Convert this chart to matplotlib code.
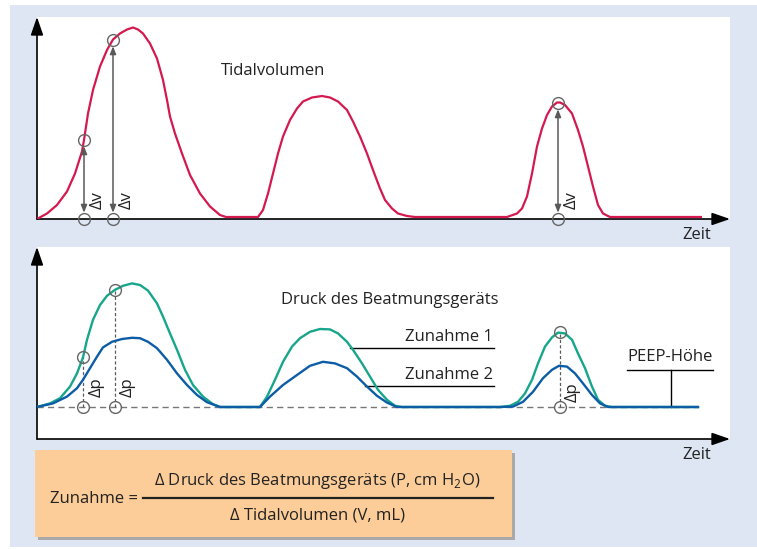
import matplotlib
matplotlib.use("Agg")
import matplotlib.pyplot as plt
from matplotlib.patches import Rectangle

plt.rcParams['font.family'] = ['Open Sans', 'DejaVu Sans']
plt.rcParams['mathtext.fontset'] = 'custom'
plt.rcParams['mathtext.rm'] = 'Open Sans'

########
# data #
########

# tidal volume (time in s, volume in mL)
vol_t = [0, 0.10, 0.20, 0.30, 0.38, 0.45, 0.47, 0.51, 0.56, 0.63, 0.70, 0.76, 0.83, 0.90, 0.96,
         1.01, 1.06, 1.13, 1.20, 1.26, 1.30, 1.33, 1.38, 1.45, 1.53, 1.63, 1.73, 1.83, 1.89,
         2.21, 2.26, 2.31, 2.36, 2.41, 2.46, 2.53, 2.60, 2.66, 2.75, 2.85, 2.93, 3.01, 3.10,
         3.16, 3.23, 3.30, 3.36, 3.43, 3.48, 3.55, 3.61, 3.70, 3.78,
         4.70, 4.80, 4.85, 4.90, 4.95, 5.00, 5.05, 5.10, 5.15, 5.20, 5.23, 5.28, 5.35, 5.41,
         5.46, 5.51, 5.56, 5.61, 5.66, 5.73, 6.65]
vol_v = [0, 11, 28, 55, 91, 135, 158, 211, 258, 305, 338, 359, 371, 379, 383,
         379, 371, 351, 321, 278, 238, 205, 171, 131, 88, 51, 25, 8, 4,
         4, 18, 51, 91, 131, 165, 198, 221, 235, 243, 246, 243, 235, 218,
         195, 165, 131, 98, 61, 38, 21, 11, 6, 4,
         4, 11, 21, 45, 91, 145, 181, 208, 225, 233, 233, 228, 211, 178,
         145, 105, 65, 28, 11, 4, 4]

# ventilator pressure (cm H2O), Zunahme 1 (green) and Zunahme 2 (blue)
green_t = [0, 0.13, 0.23, 0.33, 0.40, 0.46, 0.50, 0.56, 0.63, 0.70, 0.78, 0.86, 0.95, 1.03,
           1.11, 1.20, 1.26, 1.33, 1.40, 1.48, 1.56, 1.66, 1.76, 1.83,
           2.23, 2.30, 2.38, 2.46, 2.55, 2.63, 2.73, 2.83, 2.93, 3.01, 3.10, 3.16, 3.25,
           3.33, 3.41, 3.50, 3.58, 3.65,
           4.63, 4.73, 4.81, 4.88, 4.95, 5.01, 5.08, 5.15, 5.21, 5.28, 5.35, 5.41, 5.48,
           5.55, 5.61, 5.68, 5.75, 6.61]
green_p = [8.0, 8.9, 10.2, 13.1, 16.4, 20.4, 24.8, 29.8, 33.5, 35.8, 37.3, 38.3, 38.9, 38.5,
           37.1, 33.9, 30.6, 26.4, 22.3, 17.3, 13.5, 10.6, 8.7, 8.0,
           8.0, 10.6, 14.8, 19.3, 23.1, 25.2, 26.8, 27.5, 27.4, 26.4, 24.3, 22.3, 18.9,
           15.6, 12.3, 9.8, 8.3, 8.0,
           8.0, 8.3, 9.3, 11.4, 14.8, 18.9, 23.1, 25.4, 26.6, 26.4, 24.8, 21.4, 17.7,
           13.1, 9.8, 8.3, 8.0, 8.0]
blue_t = [0, 0.16, 0.30, 0.40, 0.46, 0.53, 0.60, 0.66, 0.75, 0.85, 0.95, 1.03, 1.11, 1.20,
          1.30, 1.40, 1.50, 1.60, 1.70, 1.83,
          2.23, 2.33, 2.46, 2.60, 2.73, 2.86, 2.98, 3.10, 3.20, 3.30, 3.40, 3.50, 3.60,
          4.63, 4.76, 4.86, 4.96, 5.06, 5.15, 5.22, 5.30, 5.38, 5.46, 5.55, 5.63, 5.71, 6.61]
blue_p = [8.0, 8.9, 10.6, 12.7, 14.8, 17.7, 20.6, 22.9, 24.3, 25.0, 25.3, 25.2, 24.3, 22.7,
          19.8, 16.4, 13.5, 11.0, 9.2, 8.0,
          8.0, 10.6, 13.5, 16.0, 18.3, 19.3, 18.9, 17.7, 15.6, 13.1, 10.8, 9.1, 8.0,
          8.0, 8.1, 9.3, 11.8, 15.2, 17.3, 18.3, 18.1, 16.4, 13.9, 11.0, 8.9, 8.0, 8.0]

peep = 8.0

# measuring points
vol_mark_t = [0.47, 0.76, 5.21]
vol_mark_v = [158, 358, 232]
p_mark_t = [0.46, 0.78, 5.23]
p_mark_p = [20.4, 37.3, 26.7]

#################
# configuration #
#################

W, H = 757, 549
RED = '#d4194f'
GREEN = '#17a68b'
BLUE = '#0c5da6'
GREY = '#5a5a5a'
TXT = '#222222'


def fx(px):
    return px / W


def fy(py):
    return 1 - py / H


fig = plt.figure(figsize=(W / 100, H / 100), dpi=100)
fig.patch.set_facecolor('white')
fig.add_artist(Rectangle((fx(10), fy(547)), fx(747), 542 / H, transform=fig.transFigure,
                         facecolor='#dee6f3', edgecolor='none', zorder=-10))


def setup_axes(ax):
    ax.set_facecolor('white')
    for s in ax.spines.values():
        s.set_visible(False)
    ax.set_xticks([])
    ax.set_yticks([])
    arrow = dict(arrowstyle='-|>,head_length=1.1,head_width=0.38', color='black',
                 lw=1.2, mutation_scale=10, shrinkA=0, shrinkB=0)
    ax.annotate('', xy=(1, 0), xytext=(0, 0), xycoords='axes fraction', arrowprops=arrow,
                annotation_clip=False)
    ax.annotate('', xy=(0, 1), xytext=(0, 0), xycoords='axes fraction', arrowprops=arrow,
                annotation_clip=False)


#####################
# plot Tidalvolumen #
#####################

ax1 = fig.add_axes([fx(37), fy(219), 693 / W, 202 / H])
setup_axes(ax1)
ax1.set_xlim(0, 6.93)
ax1.set_ylim(0, 404)

ax1.plot(vol_t, vol_v, color=RED, lw=1.6, solid_capstyle='butt', zorder=3)

for t, v in zip(vol_mark_t, vol_mark_v):
    ax1.annotate('', xy=(t, v), xytext=(t, 0),
                 arrowprops=dict(arrowstyle='<|-|>,head_length=0.45,head_width=0.18',
                                 color=GREY, lw=1.1, mutation_scale=10,
                                 shrinkA=4.5, shrinkB=4.5), zorder=4)
    ax1.text(t + 0.14, 38, '\u0394v', rotation=90, ha='center', va='center',
             fontsize=12, color=TXT)
ax1.plot(vol_mark_t, vol_mark_v, 'o', ms=8.5, mfc='none', mec='#666666', mew=1.0,
         zorder=5, clip_on=False)
ax1.plot(vol_mark_t, [0, 0, 0], 'o', ms=8.5, mfc='none', mec='#666666', mew=1.0,
         zorder=5, clip_on=False)

ax1.text(2.36, 296, 'Tidalvolumen', ha='center', va='center', fontsize=12, color=TXT)
ax1.text(0.952, -0.08, 'Zeit', transform=ax1.transAxes, ha='center', va='center',
         fontsize=12, color=TXT)

#################################
# plot Druck des Beatmungsgeräts #
#################################

ax2 = fig.add_axes([fx(37), fy(439), 693 / W, 192 / H])
setup_axes(ax2)
ax2.set_xlim(0, 6.93)
ax2.set_ylim(0, 48)

ax2.plot([0, 6.61], [peep, peep], color='#777777', lw=1.0, ls=(0, (4.5, 3)), zorder=2)
ax2.plot(green_t, green_p, color=GREEN, lw=1.7, zorder=3)
ax2.plot(blue_t, blue_p, color=BLUE, lw=1.7, zorder=4)

for t, p in zip(p_mark_t, p_mark_p):
    ax2.plot([t, t], [peep, p], color=GREY, lw=0.9, ls=(0, (2.5, 1.8)), zorder=2)
ax2.text(0.60, 13, '\u0394p', rotation=90, ha='center', va='center', fontsize=12, color=TXT)
ax2.text(0.91, 13, '\u0394p', rotation=90, ha='center', va='center', fontsize=12, color=TXT)
ax2.text(5.36, 11.8, '\u0394p', rotation=90, ha='center', va='center', fontsize=12, color=TXT)
ax2.plot(p_mark_t, p_mark_p, 'o', ms=8.5, mfc='none', mec='#666666', mew=1.0, zorder=5)
ax2.plot(p_mark_t, [peep] * 3, 'o', ms=8.5, mfc='none', mec='#666666', mew=1.0, zorder=5)

# labels
ax2.text(3.53, 34.75, 'Druck des Beatmungsgeräts', ha='center', va='center',
         fontsize=12, color=TXT)
ax2.plot([3.13, 4.57], [22.75, 22.75], color='black', lw=1.0, zorder=2)
ax2.text(4.56, 25.5, 'Zunahme 1', ha='right', va='center', fontsize=12, color=TXT)
ax2.plot([3.28, 4.57], [13.25, 13.25], color='black', lw=1.0, zorder=2)
ax2.text(4.56, 15.9, 'Zunahme 2', ha='right', va='center', fontsize=12, color=TXT)
ax2.plot([5.90, 6.76], [17.25, 17.25], color='black', lw=1.0, zorder=2)
ax2.plot([6.34, 6.34], [17.25, peep], color='black', lw=1.0, zorder=2)
ax2.text(6.33, 20.5, 'PEEP-Höhe', ha='center', va='center', fontsize=12, color=TXT)
ax2.text(0.952, -0.083, 'Zeit', transform=ax2.transAxes, ha='center', va='center',
         fontsize=12, color=TXT)

###########
# formula #
###########

fig.add_artist(Rectangle((fx(38), fy(540)), 477 / W, 87 / H, transform=fig.transFigure,
                         facecolor='#a9a9a9', edgecolor='none', zorder=1))
fig.add_artist(Rectangle((fx(35), fy(537)), 477 / W, 87 / H, transform=fig.transFigure,
                         facecolor='#fccd98', edgecolor='none', zorder=2))
fig.add_artist(plt.Line2D([fx(143), fx(493)], [fy(498), fy(498)], transform=fig.transFigure,
                          color='#222222', lw=1.6, zorder=3))
fig.text(fx(94), fy(499), 'Zunahme =', ha='center', va='center', fontsize=12, color=TXT,
         zorder=3)
fig.text(fx(317), fy(481), '\u0394 Druck des Beatmungsgeräts (P, cm H$_2$O)', ha='center',
         va='center', fontsize=12, color=TXT, zorder=3)
fig.text(fx(317), fy(516), '\u0394 Tidalvolumen (V, mL)', ha='center', va='center',
         fontsize=12, color=TXT, zorder=3)

plt.savefig('out.png', dpi=100)
plt.close()
